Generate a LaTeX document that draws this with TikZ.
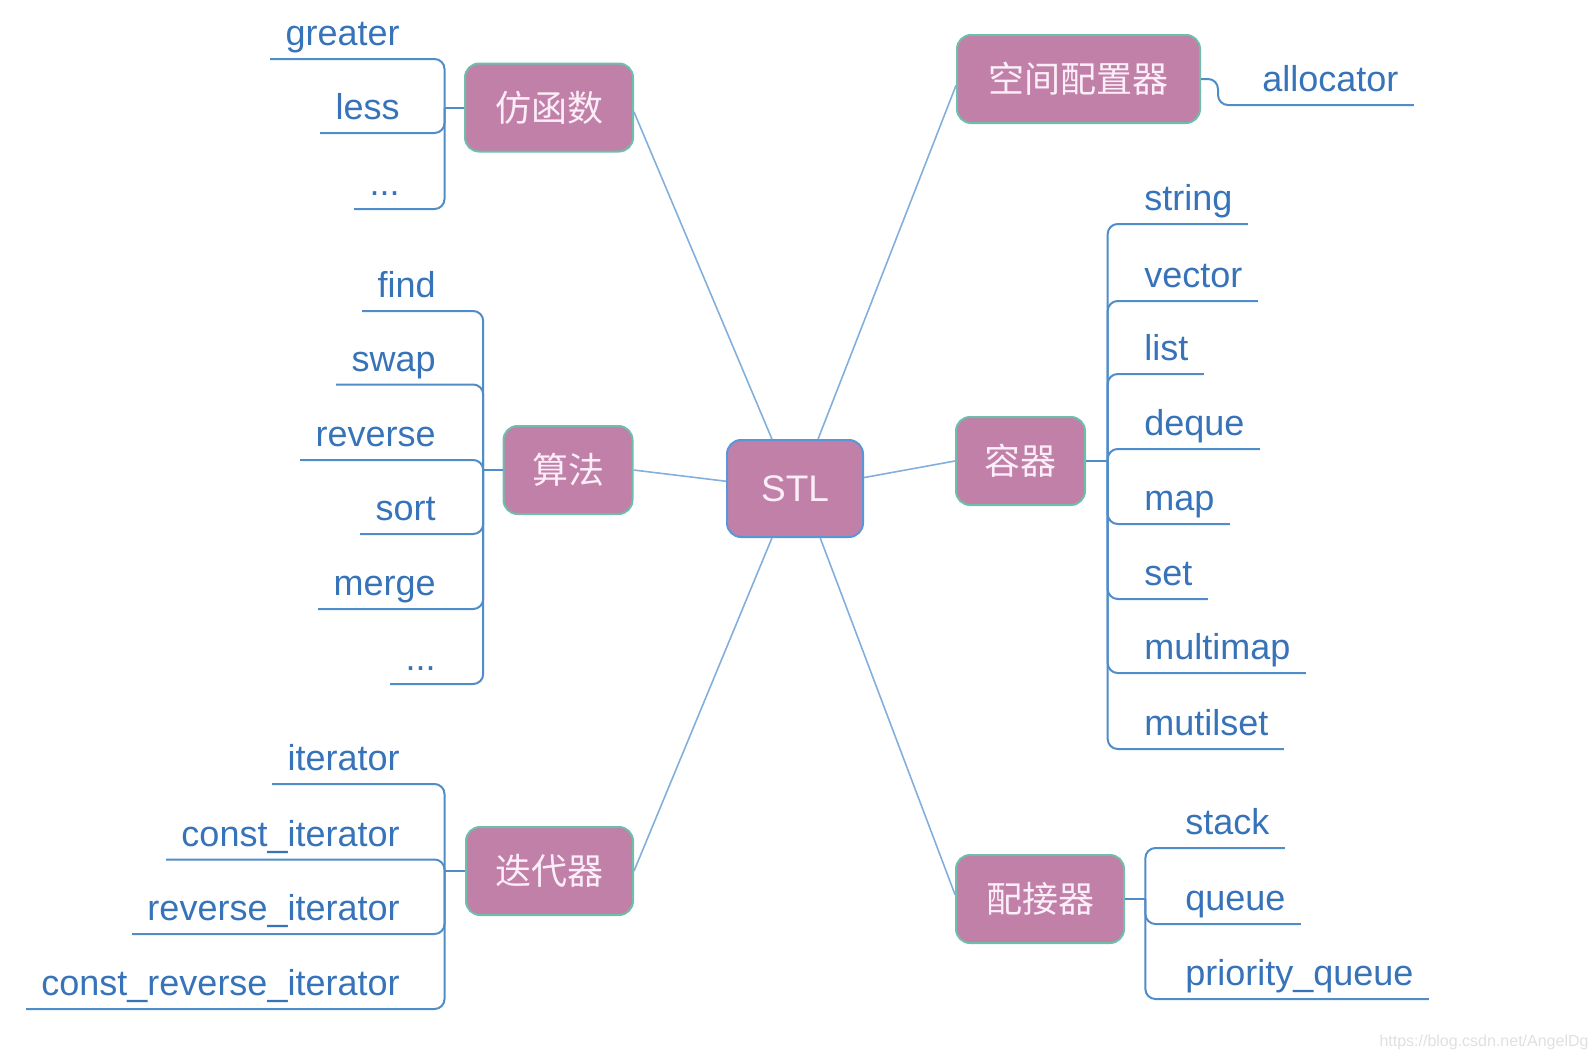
\documentclass[tikz,border=0pt]{standalone}
\usepackage{fontspec}
\usepackage{tikz}
\usepackage{xcolor}
\setmainfont{Liberation Sans}
\newfontfamily\cjk{Noto Sans CJK SC}
\definecolor{boxfill}{RGB}{193,128,168}
\definecolor{boxrim}{RGB}{110,190,170}
\definecolor{stlrim}{RGB}{90,150,215}
\definecolor{boxtext}{RGB}{252,238,248}
\definecolor{leafblue}{RGB}{55,115,185}
\definecolor{branchblue}{RGB}{80,140,200}
\definecolor{spokeblue}{RGB}{130,175,220}

\begin{document}
\begin{tikzpicture}[x=0.5pt,y=-0.5pt,
  box/.style={rounded corners=7pt,fill=boxfill,draw=boxrim,line width=1pt,text=boxtext,
    font=\cjk\fontsize{18}{20}\selectfont,inner sep=0pt,minimum height=44pt},
  leaf/.style={text=leafblue,font=\fontsize{18}{20}\selectfont,inner xsep=7.5pt,inner ysep=0pt,
    text height=13pt,text depth=6.5pt},
  branch/.style={draw=branchblue,line width=1pt,rounded corners=5pt},
  spoke/.style={draw=spokeblue,line width=0.8pt}]
\useasboundingbox (0,0) rectangle (1595,1060);

\node[box,draw=stlrim,font=\fontsize{18.5}{20}\selectfont,minimum width=68pt,minimum height=48.5pt] (stl) at (795,488.5) {STL};
\node[box,minimum width=84pt] (fz) at (549,107.5) {仿函数};
\node[box,minimum width=121.5pt] (kj) at (1078.5,79) {空间配置器};
\node[box,minimum width=64.5pt] (sf) at (568,470) {算法};
\node[box,minimum width=64.5pt] (rq) at (1020.5,461) {容器};
\node[box,minimum width=83.5pt] (ddq) at (549.5,871) {迭代器};
\node[box,minimum width=84pt] (pjq) at (1040,899) {配接器};

\draw[spoke] (fz.-3) -- (stl.115);
\draw[spoke] (kj.183) -- (stl.65);
\draw[spoke] (sf.east) -- (stl.174);
\draw[spoke] (rq.west) -- (stl.9);
\draw[spoke] (ddq.east) -- (stl.-115);
\draw[spoke] (pjq.177) -- (stl.-63);

% 仿函数
\node[leaf,anchor=south east] (greater) at (415,59) {greater};
\node[leaf,anchor=south east] (less) at (415,133) {less};
\node[leaf,anchor=south east] (fzdots) at (415,209) {...};
\draw[branch] (fz.west) -- ++(-19.5,0) coordinate (fzb);
\draw[branch] (fzb) |- (greater.south west);
\draw[branch] (fzb) |- (less.south west);
\draw[branch] (fzb) |- (fzdots.south west);

% 算法
\node[leaf,anchor=south east] (find) at (451,311) {find};
\node[leaf,anchor=south east] (swap) at (451,384.5) {swap};
\node[leaf,anchor=south east] (reverse) at (451,460) {reverse};
\node[leaf,anchor=south east] (sort) at (451,534) {sort};
\node[leaf,anchor=south east] (merge) at (451,609) {merge};
\node[leaf,anchor=south east] (sfdots) at (451,684) {...};
\draw[branch] (sf.west) -- ++(-19.3,0) coordinate (sfb);
\draw[branch] (sfb) |- (find.south west);
\draw[branch] (sfb) |- (swap.south west);
\draw[branch] (sfb) |- (reverse.south west);
\draw[branch] (sfb) |- (sort.south west);
\draw[branch] (sfb) |- (merge.south west);
\draw[branch] (sfb) |- (sfdots.south west);

% 迭代器
\node[leaf,anchor=south east] (iter) at (415,784) {iterator};
\node[leaf,anchor=south east] (citer) at (415,859.5) {const\_iterator};
\node[leaf,anchor=south east] (riter) at (415,934) {reverse\_iterator};
\node[leaf,anchor=south east] (criter) at (415,1009) {const\_reverse\_iterator};
\draw[branch] (ddq.west) -- ++(-20.5,0) coordinate (ddqb);
\draw[branch] (ddqb) |- (iter.south west);
\draw[branch] (ddqb) |- (citer.south west);
\draw[branch] (ddqb) |- (riter.south west);
\draw[branch] (ddqb) |- (criter.south west);

% 空间配置器
\node[leaf,anchor=south west] (alloc) at (1247,105) {allocator};
\draw[branch] (kj.east) -- ++(17,0) |- (alloc.south east);

% 容器
\node[leaf,anchor=south west] (string) at (1129,224) {string};
\node[leaf,anchor=south west] (vector) at (1129,301) {vector};
\node[leaf,anchor=south west] (list) at (1129,374) {list};
\node[leaf,anchor=south west] (deque) at (1129,449) {deque};
\node[leaf,anchor=south west] (map) at (1129,524) {map};
\node[leaf,anchor=south west] (set) at (1129,599) {set};
\node[leaf,anchor=south west] (multimap) at (1129,673) {multimap};
\node[leaf,anchor=south west] (mutilset) at (1129,749) {mutilset};
\draw[branch] (rq.east) -- ++(21.7,0) coordinate (rqb);
\draw[branch] (rqb) |- (string.south east);
\draw[branch] (rqb) |- (vector.south east);
\draw[branch] (rqb) |- (list.south east);
\draw[branch] (rqb) |- (deque.south east);
\draw[branch] (rqb) |- (map.south east);
\draw[branch] (rqb) |- (set.south east);
\draw[branch] (rqb) |- (multimap.south east);
\draw[branch] (rqb) |- (mutilset.south east);

% 配接器
\node[leaf,anchor=south west] (stack) at (1170,848) {stack};
\node[leaf,anchor=south west] (queue) at (1170,924) {queue};
\node[leaf,anchor=south west] (pqueue) at (1170,999) {priority\_queue};
\draw[branch] (pjq.east) -- ++(20.4,0) coordinate (pjqb);
\draw[branch] (pjqb) |- (stack.south east);
\draw[branch] (pjqb) |- (queue.south east);
\draw[branch] (pjqb) |- (pqueue.south east);

\node[text=black!12,font=\fontsize{8}{9}\selectfont] (mark) at (1484,1042) {https://blog.csdn.net/AngelDg};
\end{tikzpicture}
\end{document}
